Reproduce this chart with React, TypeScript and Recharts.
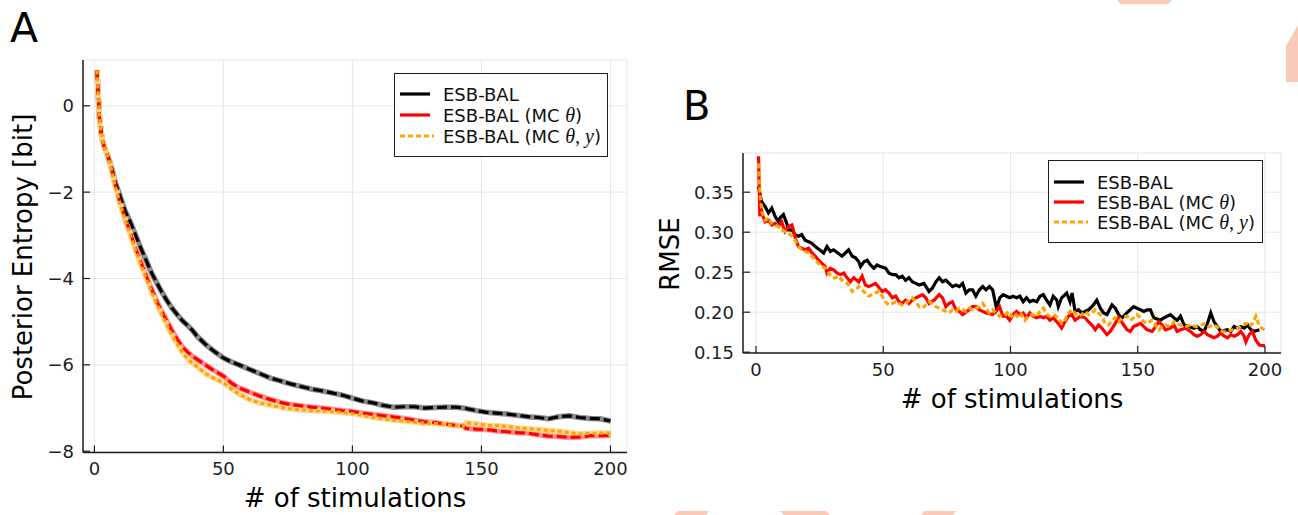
import React from "react";
import { CartesianGrid, Line, LineChart, XAxis, YAxis } from "recharts";

const FONT = "DejaVu Sans";
const INK = "#1e1e1e";
const GRID = "#e6e6e6";

// ---- panel A: posterior entropy vs. number of stimulations ----
const stimA = [
  1, 2, 3, 4, 5, 6, 7, 8, 10, 12, 14, 16, 18, 20, 22, 24, 26, 28, 30, 32, 34, 36, 38, 40, 43, 46,
  50, 53, 56, 60, 64, 68, 72, 76, 80, 84, 88, 92, 96, 100, 104, 108, 112, 116, 120, 124, 128, 132,
  136, 140, 143, 144, 148, 152, 156, 160, 164, 168, 172, 176, 180, 184, 188, 192, 196, 200,
];
const entropyBlack = [
  0.82, -0.3, -0.78, -0.98, -1.12, -1.3, -1.5, -1.75, -2.1, -2.45, -2.7, -3.0, -3.3, -3.57, -3.85,
  -4.08, -4.3, -4.5, -4.68, -4.83, -4.97, -5.08, -5.2, -5.35, -5.52, -5.67, -5.84, -5.93, -6.0,
  -6.1, -6.2, -6.3, -6.37, -6.44, -6.5, -6.56, -6.6, -6.65, -6.7, -6.77, -6.84, -6.88, -6.94,
  -6.98, -6.97, -6.97, -7.0, -6.99, -6.98, -6.98, -7.0, -7.01, -7.06, -7.1, -7.12, -7.14, -7.17,
  -7.2, -7.22, -7.25, -7.2, -7.18, -7.22, -7.24, -7.25, -7.3,
];
const entropyRed = [
  0.82, -0.3, -0.78, -0.98, -1.14, -1.33, -1.55, -1.82, -2.25, -2.62, -2.95, -3.3, -3.62, -3.92,
  -4.22, -4.5, -4.75, -4.98, -5.2, -5.4, -5.58, -5.7, -5.8, -5.88, -6.0, -6.12, -6.26, -6.42,
  -6.53, -6.63, -6.72, -6.8, -6.87, -6.92, -6.95, -6.98, -7.0, -7.03, -7.06, -7.08, -7.12, -7.15,
  -7.18, -7.21, -7.24, -7.28, -7.32, -7.34, -7.37, -7.4, -7.42, -7.47, -7.49, -7.5, -7.53, -7.55,
  -7.57, -7.58, -7.62, -7.65, -7.66, -7.68, -7.67, -7.64, -7.64, -7.63,
];
const entropyOrange = [
  0.82, -0.3, -0.78, -0.98, -1.14, -1.34, -1.56, -1.84, -2.28, -2.66, -3.0, -3.35, -3.68, -3.98,
  -4.28, -4.56, -4.82, -5.06, -5.3, -5.5, -5.7, -5.85, -5.96, -6.05, -6.2, -6.3, -6.41, -6.55,
  -6.67, -6.8, -6.88, -6.93, -6.98, -7.02, -7.04, -7.06, -7.07, -7.08, -7.1, -7.13, -7.17, -7.22,
  -7.25, -7.28, -7.3, -7.33, -7.35, -7.36, -7.38, -7.41, -7.42, -7.34, -7.37, -7.4, -7.41, -7.43,
  -7.46, -7.48, -7.5, -7.52, -7.54, -7.57, -7.6, -7.59, -7.58, -7.58,
];
const entropyTicksX = [0, 50, 100, 150, 200];
const entropyTicksY = [-8, -6, -4, -2, 0];

// ---- panel B: RMSE vs. number of stimulations, [x, rmse] ----
const rmseBlack = [
  [1, 0.357], [2.2, 0.338], [3.6, 0.332], [4.9, 0.324], [6.2, 0.33], [7.5, 0.32], [8.8, 0.313],
  [9.5, 0.318], [10.8, 0.322], [12.1, 0.311], [12.8, 0.303], [14.1, 0.303], [15.4, 0.297],
  [16.7, 0.295], [18, 0.297], [19.3, 0.29], [20.7, 0.288], [22, 0.286], [23.3, 0.282],
  [26.6, 0.274], [27.9, 0.282], [29.2, 0.276], [30.5, 0.278], [33.8, 0.27], [35.1, 0.274],
  [36.4, 0.278], [37.8, 0.27], [39.1, 0.268], [40.4, 0.263], [41.1, 0.257], [42.4, 0.263],
  [43.7, 0.265], [45, 0.259], [46.3, 0.255], [47.6, 0.259], [48.9, 0.257], [50.9, 0.255],
  [52.2, 0.249], [53.6, 0.247], [54.9, 0.247], [56.2, 0.243], [57.5, 0.245], [58.8, 0.24],
  [60.1, 0.243], [61.4, 0.238], [62.8, 0.236], [64.1, 0.234], [66, 0.236], [68, 0.226],
  [69.3, 0.23], [70.7, 0.238], [72, 0.243], [73.3, 0.238], [74.6, 0.24], [75.9, 0.236],
  [77.2, 0.232], [78.6, 0.234], [79.9, 0.232], [81.2, 0.236], [82.5, 0.224], [83.8, 0.228],
  [85.1, 0.228], [86.4, 0.22], [87.8, 0.228], [89.1, 0.232], [90.4, 0.228], [91.7, 0.232],
  [93, 0.228], [94.5, 0.205], [95.8, 0.218], [97.1, 0.222], [98.4, 0.22], [99.7, 0.218],
  [101, 0.22], [102.4, 0.218], [103.7, 0.22], [105, 0.213], [106.3, 0.218], [107.6, 0.213],
  [108.9, 0.215], [110.3, 0.213], [111.6, 0.22], [112.9, 0.222], [114.2, 0.215], [115.5, 0.209],
  [116.8, 0.22], [118.2, 0.215], [118.8, 0.207], [120.1, 0.218], [122.1, 0.224], [123.4, 0.213],
  [124.2, 0.224], [125.4, 0.201], [126.7, 0.203], [128, 0.199], [129.3, 0.201], [130.7, 0.203],
  [132.6, 0.209], [133.9, 0.215], [135.3, 0.205], [136.6, 0.199], [137.9, 0.197], [139.9, 0.209],
  [141.2, 0.205], [142.5, 0.197], [143.8, 0.193], [146, 0.2], [148.4, 0.207], [149.7, 0.205],
  [151.1, 0.203], [152.4, 0.201], [153.7, 0.203], [155, 0.203], [156.3, 0.193], [158.9, 0.19],
  [160.3, 0.193], [161.6, 0.195], [162.9, 0.197], [164.2, 0.193], [165.5, 0.19], [166.8, 0.195],
  [168.2, 0.184], [170, 0.182], [172.1, 0.18], [173.4, 0.182], [174.7, 0.178], [176.1, 0.176],
  [177.4, 0.186], [178.7, 0.199], [180, 0.188], [181.3, 0.182], [182.6, 0.176], [185.3, 0.178],
  [186.6, 0.176], [187.9, 0.182], [189.2, 0.18], [190.5, 0.182], [191.8, 0.18], [193.2, 0.184],
  [194.5, 0.178], [195.8, 0.176], [197.8, 0.178],
];
const rmseRed = [
  [1, 0.395], [1.5, 0.32], [2, 0.33], [2.5, 0.322], [3.6, 0.313], [4.9, 0.315], [6.2, 0.309],
  [7.5, 0.311], [8.8, 0.307], [10.1, 0.313], [11.4, 0.301], [12.8, 0.307], [14.1, 0.309],
  [14.7, 0.303], [15.4, 0.293], [16.7, 0.282], [18, 0.28], [19.3, 0.278], [20.7, 0.28],
  [22, 0.274], [23.3, 0.27], [24.6, 0.265], [25.9, 0.261], [27.2, 0.257], [27.9, 0.249],
  [29.2, 0.255], [30.5, 0.253], [31.8, 0.249], [33.2, 0.247], [34.5, 0.249], [35.8, 0.243],
  [37.1, 0.238], [38.4, 0.243], [40.4, 0.238], [41.7, 0.245], [43, 0.234], [44.3, 0.232],
  [45.7, 0.234], [47, 0.236], [49.6, 0.226], [50.9, 0.228], [52.2, 0.224], [53.6, 0.218],
  [54.9, 0.22], [56.2, 0.213], [57.5, 0.211], [58.8, 0.215], [60.1, 0.211], [61.4, 0.215],
  [62.8, 0.218], [64.1, 0.22], [65.4, 0.222], [66.7, 0.218], [68, 0.211], [70, 0.215],
  [72, 0.222], [73.3, 0.218], [74.6, 0.207], [75.9, 0.211], [77.2, 0.213], [78.6, 0.203],
  [79.9, 0.201], [81.2, 0.197], [83.8, 0.203], [85.1, 0.207], [86.4, 0.207], [87.8, 0.203],
  [89.1, 0.201], [90.4, 0.199], [93, 0.197], [94.3, 0.201], [95.7, 0.207], [97, 0.195],
  [98.4, 0.195], [99.7, 0.19], [101, 0.197], [102.4, 0.201], [103.7, 0.197], [105, 0.199],
  [106.3, 0.193], [107.6, 0.199], [108.9, 0.195], [110.3, 0.193], [111.6, 0.195], [112.9, 0.193],
  [114.2, 0.195], [115.5, 0.19], [116.8, 0.193], [118.8, 0.186], [120.1, 0.18], [121.4, 0.188],
  [122.8, 0.195], [124.1, 0.197], [125.4, 0.19], [127.4, 0.195], [129.3, 0.193], [130.7, 0.188],
  [132, 0.184], [133.3, 0.178], [134.6, 0.184], [135.9, 0.18], [137.9, 0.172], [139.2, 0.176],
  [141.2, 0.186], [142.5, 0.193], [144.5, 0.184], [145.8, 0.178], [147.1, 0.176], [148.4, 0.182],
  [149.7, 0.184], [151.1, 0.186], [152.4, 0.182], [153.7, 0.178], [155.7, 0.176], [157, 0.182],
  [158.3, 0.188], [159.6, 0.184], [160.9, 0.178], [162.9, 0.18], [164.2, 0.184], [165.5, 0.176],
  [166.8, 0.178], [168.8, 0.18], [170.8, 0.176], [172.1, 0.172], [173.4, 0.17], [174.7, 0.172],
  [176.1, 0.176], [177.4, 0.172], [178.7, 0.17], [180, 0.168], [181.3, 0.17], [182.6, 0.174],
  [184, 0.17], [185.3, 0.168], [186.6, 0.172], [187.9, 0.17], [189.2, 0.172], [190.5, 0.176],
  [191.8, 0.17], [192.5, 0.163], [193.8, 0.172], [195.1, 0.176], [196.4, 0.165], [197.8, 0.159],
  [200, 0.158],
];
const rmseOrange = [
  [1, 0.386], [1.6, 0.345], [2.5, 0.324], [3.6, 0.315], [4.9, 0.318], [6.2, 0.311], [7.5, 0.309],
  [8.8, 0.307], [10.1, 0.303], [11.4, 0.301], [12.8, 0.299], [14.1, 0.295], [15.4, 0.29],
  [16.7, 0.282], [18, 0.278], [19.3, 0.276], [20.7, 0.274], [22, 0.27], [23.3, 0.265],
  [24.6, 0.261], [25.9, 0.257], [27.2, 0.255], [28.6, 0.249], [29.9, 0.243], [31.2, 0.243],
  [32.5, 0.245], [33.8, 0.24], [35.1, 0.238], [36.4, 0.234], [37.8, 0.226], [39.1, 0.228],
  [40.4, 0.232], [41.7, 0.228], [43, 0.224], [44.3, 0.22], [45.7, 0.222], [47, 0.224],
  [48.3, 0.226], [49.6, 0.22], [50.9, 0.213], [52.2, 0.209], [53.6, 0.211], [54.9, 0.213],
  [56.2, 0.211], [57.5, 0.209], [58.8, 0.211], [60.1, 0.215], [61.4, 0.218], [62.8, 0.213],
  [64.1, 0.207], [65.4, 0.205], [66.7, 0.209], [68, 0.213], [69.3, 0.211], [70.7, 0.207],
  [72, 0.205], [73.3, 0.203], [74.6, 0.201], [75.9, 0.199], [77.2, 0.203], [78.6, 0.201],
  [79.9, 0.205], [81.2, 0.203], [82.5, 0.201], [83.8, 0.205], [85.1, 0.203], [86.4, 0.205],
  [87.8, 0.207], [89.1, 0.211], [90.4, 0.205], [91.7, 0.199], [93, 0.203], [94.3, 0.199],
  [95.7, 0.195], [97, 0.197], [98.2, 0.197], [99.1, 0.201], [100.4, 0.195], [101.7, 0.199],
  [103, 0.193], [104.3, 0.197], [105.7, 0.19], [107, 0.195], [108.3, 0.197], [110.3, 0.195],
  [111.6, 0.201], [112.9, 0.205], [114.2, 0.197], [115.5, 0.195], [116.8, 0.197], [118.8, 0.193],
  [120.1, 0.186], [121.4, 0.19], [122.8, 0.199], [124.1, 0.203], [125.4, 0.199], [126.7, 0.195],
  [128, 0.197], [129.3, 0.201], [130.7, 0.197], [132, 0.199], [133.3, 0.203], [134.6, 0.199],
  [135.9, 0.195], [137.2, 0.186], [138.6, 0.184], [139.9, 0.19], [141.2, 0.193], [142.5, 0.188],
  [143.8, 0.193], [145.8, 0.195], [147.1, 0.19], [148.4, 0.193], [149.7, 0.197], [151.1, 0.193],
  [152.4, 0.188], [153.7, 0.186], [155.7, 0.19], [157, 0.184], [158.3, 0.178], [159.6, 0.182],
  [160.9, 0.184], [162.9, 0.182], [164.2, 0.188], [165.5, 0.186], [166.8, 0.184], [168.8, 0.182],
  [170.8, 0.184], [172.8, 0.182], [174.7, 0.184], [176.7, 0.186], [178, 0.182], [180, 0.184],
  [182, 0.18], [183.3, 0.176], [185.3, 0.176], [187.3, 0.178], [189.2, 0.18], [191.2, 0.184],
  [192.5, 0.186], [193.8, 0.182], [195.1, 0.186], [196.4, 0.195], [197.8, 0.182], [199.8, 0.178],
];
const rmseTicksX = [0, 50, 100, 150, 200];
const rmseTicksY = [0.15, 0.2, 0.25, 0.3, 0.35];

const SERIES = [
  { key: "black", color: "#000000", band: "#8a8a8a", dash: "10 4" },
  { key: "red", color: "#ff0000", band: "#ff9090", dash: "10 4" },
  { key: "orange", color: "#ffa500", band: "#ffd699", dash: "4 3" },
];

const entropyData = stimA.map((x, i) => ({
  x,
  black: entropyBlack[i],
  red: entropyRed[i],
  orange: entropyOrange[i],
}));

const toPoints = (rows: number[][]) => rows.map(([x, y]) => ({ x, y }));

const minus = (v: number) => (v < 0 ? `\u2212${Math.abs(v)}` : String(v));

const tickStyle = { fill: INK, fontSize: 18, fontFamily: FONT };
const axisLine = { stroke: INK, strokeWidth: 1.5 };
const tickLine = { stroke: INK, strokeWidth: 1.2 };

function Math_({ children }: { children: React.ReactNode }) {
  return (
    <span style={{ fontFamily: "Liberation Serif", fontStyle: "italic", fontSize: 20 }}>
      {children}
    </span>
  );
}

function LegendBox({ left, top, width, height, rows }: {
  left: number; top: number; width: number; height: number; rows: number[];
}) {
  const labels = [
    <>ESB-BAL</>,
    <>ESB-BAL (MC <Math_>θ</Math_>)</>,
    <>ESB-BAL (MC <Math_>θ, y</Math_>)</>,
  ];
  return (
    <div
      style={{
        position: "absolute", left, top, width, height, boxSizing: "border-box",
        border: `1.5px solid ${INK}`, background: "#fff",
      }}
    >
      {SERIES.map((s, i) => (
        <div
          key={s.key}
          style={{
            position: "absolute", left: 4, top: rows[i] - 12, height: 24,
            display: "flex", alignItems: "center", whiteSpace: "nowrap",
            fontFamily: FONT, fontSize: 18, color: "#111",
          }}
        >
          <svg width={40} height={24} style={{ marginRight: 4 }}>
            <line
              x1={1} x2={s.key === "orange" ? 35 : 31} y1={12} y2={12}
              stroke={s.color} strokeWidth={3.2}
              strokeDasharray={s.key === "orange" ? "5 3" : undefined}
            />
          </svg>
          <span>{labels[i]}</span>
        </div>
      ))}
    </div>
  );
}

function EntropyPanel() {
  return (
    <div style={{ position: "absolute", left: 0, top: 0 }}>
      <LineChart width={640} height={515} data={entropyData}
        margin={{ top: 60, right: 13, bottom: 0, left: 0 }}>
        <CartesianGrid stroke={GRID} strokeWidth={1} />
        <XAxis
          dataKey="x" type="number" domain={[-4.4, 206.4]} ticks={entropyTicksX}
          allowDataOverflow interval={0} height={62.5}
          tickSize={-7} tickMargin={17} tick={tickStyle} axisLine={axisLine} tickLine={tickLine}
        />
        <YAxis
          type="number" domain={[-8.03, 1.06]} ticks={entropyTicksY} allowDataOverflow
          interval={0} width={83} tickFormatter={minus}
          tickSize={-7} tickMargin={16} tick={tickStyle} axisLine={axisLine} tickLine={tickLine}
        />
        {SERIES.map((s) => (
          <Line key={`${s.key}-band`} dataKey={s.key} type="linear" stroke={s.band}
            strokeWidth={5.5} dot={false} activeDot={false} isAnimationActive={false} />
        ))}
        {SERIES.map((s) => (
          <Line key={s.key} dataKey={s.key} type="linear" stroke={s.color}
            strokeWidth={3.2} strokeDasharray={s.dash} dot={false} activeDot={false}
            isAnimationActive={false} />
        ))}
      </LineChart>
    </div>
  );
}

function RmsePanel() {
  const series = [rmseBlack, rmseRed, rmseOrange];
  return (
    <div style={{ position: "absolute", left: 650, top: 0 }}>
      <LineChart width={648} height={515} margin={{ top: 153, right: 17, bottom: 0, left: 0 }}>
        <CartesianGrid stroke={GRID} strokeWidth={1} />
        <XAxis
          dataKey="x" type="number" domain={[-5.1, 206.3]} ticks={rmseTicksX}
          allowDataOverflow interval={0} height={162}
          tickSize={-7} tickMargin={17} tick={tickStyle} axisLine={axisLine} tickLine={tickLine}
        />
        <YAxis
          type="number" domain={[0.149, 0.399]} ticks={rmseTicksY} allowDataOverflow
          interval={0} width={93} tickFormatter={(v: number) => v.toFixed(2)}
          tickSize={-7} tickMargin={16} tick={tickStyle} axisLine={axisLine} tickLine={tickLine}
        />
        {SERIES.map((s, i) => (
          <Line key={s.key} data={toPoints(series[i])} dataKey="y" type="linear"
            stroke={s.color} strokeWidth={3.2}
            strokeDasharray={s.key === "orange" ? "5 3" : undefined}
            dot={false} activeDot={false} isAnimationActive={false} />
        ))}
      </LineChart>
    </div>
  );
}

export default function App() {
  return (
    <div style={{
      position: "fixed", left: 0, top: 0, width: 1298, height: 515,
      background: "#fff", overflow: "hidden",
    }}>
      <svg width={1298} height={515} style={{ position: "absolute", left: 0, top: 0 }}>
        <g fill="#f9cab5">
          <polygon points="1117,0 1172,0 1168,4 1121,4" />
          <polygon points="1298,25 1286,46 1286,82 1298,82" />
          <polygon points="678,511 709,511 706,515 674,515" />
          <polygon points="780,511 826,511 830,515 784,515" />
          <polygon points="925,511 956,511 953,515 921,515" />
        </g>
      </svg>
      <EntropyPanel />
      <RmsePanel />
      <svg width={1298} height={515}
        style={{ position: "absolute", left: 0, top: 0, pointerEvents: "none" }}>
        <g fontFamily={FONT} fill="#000">
          <text x={10} y={42} fontSize={41}>A</text>
          <text x={683} y={120} fontSize={40}>B</text>
          <text x={355} y={507} fontSize={26} textAnchor="middle">
            # of stimulations
          </text>
          <text x={1012} y={408} fontSize={26} textAnchor="middle">
            # of stimulations
          </text>
          <text x={32} y={257} fontSize={26} textAnchor="middle"
            transform="rotate(-90 32 257)">
            Posterior Entropy [bit]
          </text>
          <text x={679} y={254} fontSize={26} textAnchor="middle"
            transform="rotate(-90 679 254)">
            RMSE
          </text>
        </g>
      </svg>
      <LegendBox left={394} top={73} width={214} height={84} rows={[20, 41, 62]} />
      <LegendBox left={1048} top={160} width={215} height={83} rows={[21, 41, 61]} />
    </div>
  );
}
